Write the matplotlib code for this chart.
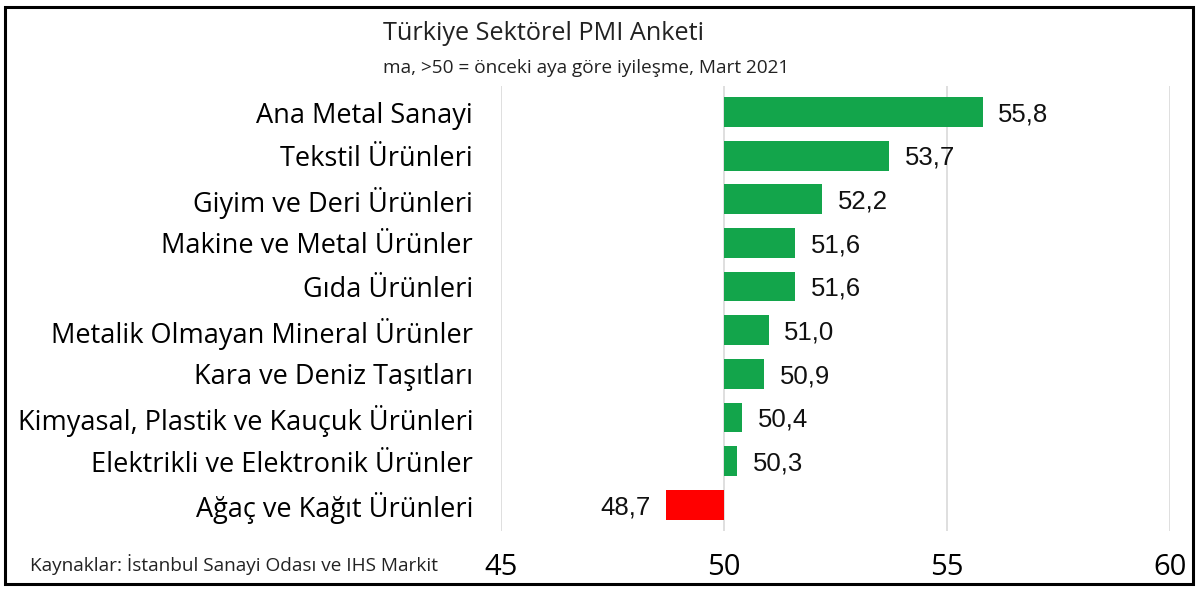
import matplotlib
matplotlib.use("Agg")
import matplotlib.pyplot as plt
from matplotlib.patches import Rectangle

categories = ["Ana Metal Sanayi", "Tekstil Ürünleri", "Giyim ve Deri Ürünleri",
              "Makine ve Metal Ürünler", "Gıda Ürünleri", "Metalik Olmayan Mineral Ürünler",
              "Kara ve Deniz Taşıtları", "Kimyasal, Plastik ve Kauçuk Ürünleri",
              "Elektrikli ve Elektronik Ürünler", "Ağaç ve Kağıt Ürünleri"]
values = [55.8, 53.7, 52.2, 51.6, 51.6, 51.0, 50.9, 50.4, 50.3, 48.7]
value_labels = ["55,8", "53,7", "52,2", "51,6", "51,6", "51,0", "50,9", "50,4", "50,3", "48,7"]
xticks = [45, 50, 55, 60]
base = 50

title = "Türkiye Sektörel PMI Anketi"
subtitle = "ma, >50 = önceki aya göre iyileşme, Mart 2021"
source = "Kaynaklar: İstanbul Sanayi Odası ve IHS Markit"

GREEN = "#13a54b"
RED = "#ff0000"
narrow = ["Open Sans", "DejaVu Sans"]
label_font = ["Open Sans", "DejaVu Sans"]
value_font = ["Liberation Sans", "DejaVu Sans"]

fig = plt.figure(figsize=(12, 5.96), dpi=100)
ax = fig.add_axes([0.4175, 0.109, 0.5575, 0.747])

ypos = list(range(len(categories)))
widths = [v - base for v in values]
colors = [GREEN if v >= base else RED for v in values]
ax.barh(ypos, widths, left=base, height=0.68, color=colors, zorder=3)

for y, v, lab in zip(ypos, values, value_labels):
    if v >= base:
        ax.text(v + 0.35, y + 0.05, lab, ha="left", va="center", fontsize=18.5,
                family=value_font, color="#111111")
    else:
        ax.text(v - 0.35, y + 0.05, lab, ha="right", va="center", fontsize=18.5,
                family=value_font, color="#111111")

ax.set_xlim(45, 60)
ax.set_ylim(len(categories) - 0.4, -0.6)
ax.set_xticks(xticks)
ax.set_xticklabels([str(t) for t in xticks], family=narrow, fontsize=21)
ax.set_yticks(ypos)
ax.set_yticklabels(categories, family=label_font, fontsize=19.5)
ax.tick_params(axis="both", length=0)
ax.tick_params(axis="x", pad=16)
ax.tick_params(axis="y", pad=20)
for s in ax.spines.values():
    s.set_visible(False)
ax.grid(axis="x", color="#d9d9d9", linewidth=1.2, zorder=0)

fig.text(383 / 1200, 1 - 33 / 596, title, ha="left", va="center",
         family=narrow, fontsize=18.2, color="#222222")
fig.text(383 / 1200, 1 - 68 / 596, subtitle, ha="left", va="center",
         family=narrow, fontsize=13.7, color="#222222")
fig.text(30 / 1200, 1 - 565 / 596, source, ha="left", va="center",
         family=narrow, fontsize=13.7, color="#222222")

fig.add_artist(Rectangle((5 / 1200, 12 / 596), 1188 / 1200, 577 / 596,
                         transform=fig.transFigure, fill=False,
                         edgecolor="black", linewidth=2.2))

fig.savefig("out.png", dpi=100)
